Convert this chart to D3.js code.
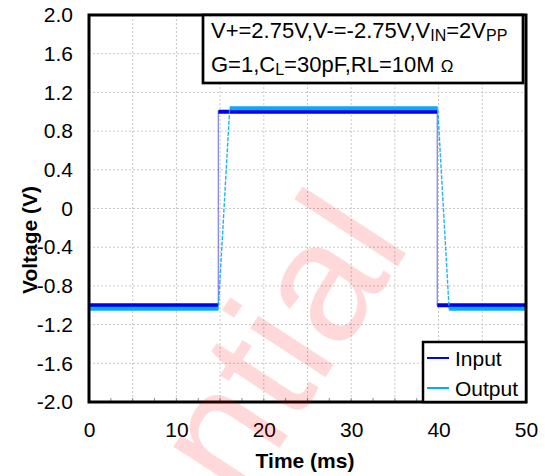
<!DOCTYPE html>
<html>
<head>
<meta charset="utf-8">
<script src="https://cdn.jsdelivr.net/npm/d3@7"></script>
<style>
  html, body { margin: 0; padding: 0; background: #fff; }
  svg { display: block; font-family: Arial, "Liberation Sans", sans-serif; }
</style>
</head>
<body>
<svg id="chart" width="545" height="476"></svg>
<script>
// ---- data ----
const timeTicks = [0, 10, 20, 30, 40, 50];
const timeGrid = [5, 10, 15, 20, 25, 30, 35, 40, 45];
const timeMinor = [2.5, 5, 7.5, 10, 12.5, 15, 17.5, 20, 22.5, 25, 27.5, 30, 32.5, 35, 37.5, 40, 42.5, 45, 47.5];
const voltTicks = [2.0, 1.6, 1.2, 0.8, 0.4, 0, -0.4, -0.8, -1.2, -1.6, -2.0];
const voltLabels = ["2.0", "1.6", "1.2", "0.8", "0.4", "0", "-0.4", "-0.8", "-1.2", "-1.6", "-2.0"];
const inputTime = [0, 14.8, 14.8, 39.85, 39.85, 50];
const inputVolt = [-1.0, -1.0, 1.0, 1.0, -1.0, -1.0];
const outputTime = [0, 14.8, 16.1, 39.9, 41.2, 50];
const outputVolt = [-1.035, -1.035, 1.035, 1.035, -1.035, -1.035];
const seriesNames = ["Input", "Output"];
const seriesColors = ["#0000ee", "#0aaaf0"];

// ---- layout ----
const svg = d3.select("#chart");
const L = 89, R = 526, T = 15, B = 402;
const x = d3.scaleLinear().domain([0, 50]).range([L, R]);
const y = d3.scaleLinear().domain([-2, 2]).range([B, T]);

// grid
const grid = svg.append("g");
grid.selectAll("line.vg").data(timeGrid).enter().append("line")
  .attr("x1", d => x(d)).attr("x2", d => x(d)).attr("y1", T).attr("y2", B)
  .attr("stroke", "#c8c8c8").attr("stroke-width", 1).attr("stroke-dasharray", "2,2");
grid.selectAll("line.hg").data(voltTicks.filter(v => v > -2 && v < 2)).enter().append("line")
  .attr("x1", L).attr("x2", R).attr("y1", d => y(d)).attr("y2", d => y(d))
  .attr("stroke", "#c8c8c8").attr("stroke-width", 1).attr("stroke-dasharray", "2,2");
grid.selectAll("line.mt").data(timeMinor).enter().append("line")
  .attr("x1", d => x(d)).attr("x2", d => x(d)).attr("y1", B - 4).attr("y2", B)
  .attr("stroke", "#888").attr("stroke-width", 1);

// series
function drawSeries(ts, vs, color, thinOpacity, dash) {
  const pts = ts.map((t, i) => [t, vs[i]]);
  const line = d3.line().x(d => x(d[0])).y(d => y(d[1]));
  svg.append("path").attr("d", line(pts)).attr("fill", "none")
    .attr("stroke", color).attr("stroke-width", 1.4).attr("stroke-opacity", thinOpacity)
    .attr("stroke-dasharray", dash);
  const flats = [];
  for (let i = 0; i < pts.length - 1; i++) {
    if (pts[i][1] === pts[i + 1][1]) flats.push([pts[i], pts[i + 1]]);
  }
  svg.selectAll(null).data(flats).enter().append("path")
    .attr("d", d => line(d)).attr("fill", "none")
    .attr("stroke", color).attr("stroke-width", 4);
}
drawSeries(inputTime, inputVolt, seriesColors[0], 0.45, null);
drawSeries(outputTime, outputVolt, seriesColors[1], 0.9, "4,1.5");

// frame
svg.append("rect").attr("x", L).attr("y", T).attr("width", R - L).attr("height", B - T)
  .attr("fill", "none").attr("stroke", "#000").attr("stroke-width", 3);

// axes labels
const yAxis = d3.axisLeft(y).tickValues(voltTicks)
  .tickFormat((d, i) => voltLabels[i]).tickSize(0).tickPadding(16);
const gy = svg.append("g").attr("transform", `translate(${L},0)`).call(yAxis);
gy.select(".domain").remove();
gy.selectAll("text").attr("font-size", 21).attr("fill", "#000")
  .attr("font-family", "Arial, 'Liberation Sans', sans-serif");

const xAxis = d3.axisBottom(x).tickValues(timeTicks).tickSize(0).tickPadding(20);
const gx = svg.append("g").attr("transform", `translate(0,${B})`).call(xAxis);
gx.select(".domain").remove();
gx.selectAll("text").attr("font-size", 21).attr("fill", "#000")
  .attr("font-family", "Arial, 'Liberation Sans', sans-serif");

svg.append("text").attr("x", 305).attr("y", 468).attr("text-anchor", "middle")
  .attr("font-size", 21).attr("font-weight", "bold").text("Time (ms)");
svg.append("text").attr("transform", "translate(37,240) rotate(-90)")
  .attr("text-anchor", "middle").attr("font-size", 21).attr("font-weight", "bold")
  .text("Voltage (V)");

// annotation box
svg.append("rect").attr("x", 203).attr("y", 15).attr("width", 320).attr("height", 68)
  .attr("fill", "#fff").attr("stroke", "#000").attr("stroke-width", 2.7);
const t1 = svg.append("text").attr("x", 211).attr("y", 38).attr("font-size", 22);
t1.append("tspan").text("V+=2.75V,V-=-2.75V,V");
t1.append("tspan").attr("font-size", 16).attr("dy", 3).text("IN");
t1.append("tspan").attr("dy", -3).text("=2V");
t1.append("tspan").attr("font-size", 16).attr("dy", 3).text("PP");
const t2 = svg.append("text").attr("x", 211).attr("y", 72).attr("font-size", 22);
t2.append("tspan").text("G=1,C");
t2.append("tspan").attr("font-size", 16).attr("dy", 3).text("L");
t2.append("tspan").attr("dy", -3).text("=30pF,RL=10M ");
t2.append("tspan").attr("font-size", 17).text("Ω");

// legend
const lg = svg.append("g");
lg.append("rect").attr("x", 423).attr("y", 342).attr("width", R - 423).attr("height", B - 342)
  .attr("fill", "#fff").attr("stroke", "#000").attr("stroke-width", 2.5);
const legY = [358, 388];
seriesNames.forEach((n, i) => {
  lg.append("line").attr("x1", 427).attr("x2", 449).attr("y1", legY[i]).attr("y2", legY[i])
    .attr("stroke", i === 0 ? "#0000ff" : "#00b0f0").attr("stroke-width", 2);
  lg.append("text").attr("x", 455).attr("y", legY[i] + 8).attr("font-size", 21).text(n);
});

// watermark
svg.append("text").attr("transform", "translate(412,244) rotate(-57)")
  .attr("text-anchor", "end").attr("font-size", 170)
  .attr("fill", "#ff0000").attr("fill-opacity", 0.15)
  .text("Confidential");
</script>
</body>
</html>
